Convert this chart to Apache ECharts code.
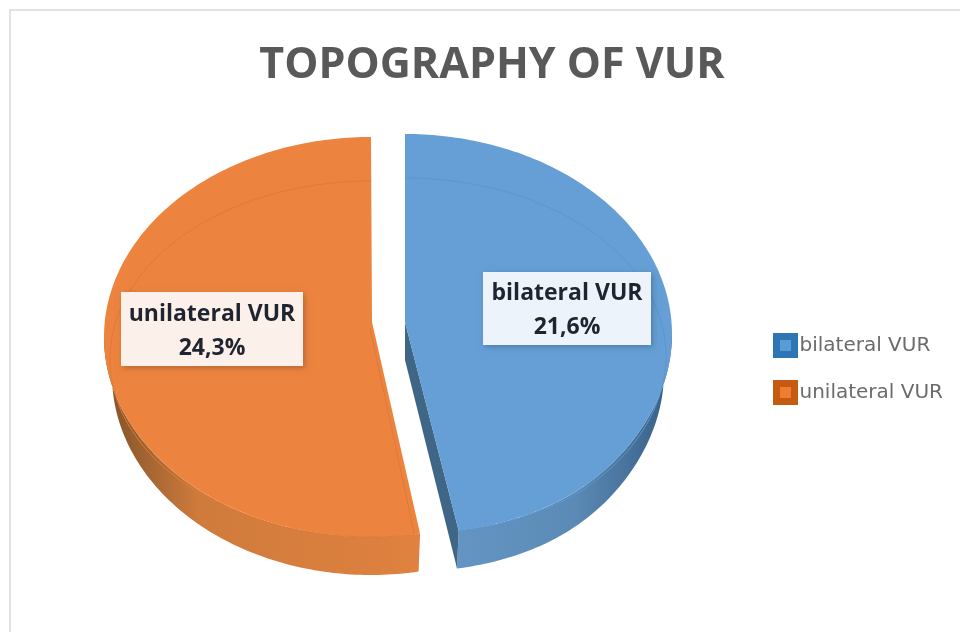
<!DOCTYPE html>
<html>
<head>
<meta charset="utf-8">
<title>Topography of VUR</title>
<script src="https://cdn.jsdelivr.net/npm/echarts@6/dist/echarts.min.js"></script>
<style>
  html, body { margin: 0; padding: 0; background: #fff; }
  #chart { width: 960px; height: 632px; }
</style>
</head>
<body>
<div id="chart"></div>
<script>
var categories = ["bilateral VUR", "unilateral VUR"];
var percents = [21.6, 24.3];

var total = percents[0] + percents[1];
var splitAngle = (360 * percents[0]) / total;
var depth = 38;

// each slice is exploded, so it keeps its own ellipse
var slices = [
  {
    from: 0, to: splitAngle,
    cx: 405, cy: 334, rx: 267, ry: 200, apexX: 405, apexY: 322, flare: 0.1,
    top: "#659fd6", line: "#5c96cd", side: "#3f6587",
    wall: [[0, "#6495c2"], [0.55, "#5b8ab6"], [1, "#375f86"]],
    legend: "#2e75b6", legendIn: "#5b9bd5",
    box: { x: 483, y: 272, width: 168, height: 73 }, boxFill: "#ecf3fa"
  },
  {
    from: splitAngle, to: 360,
    cx: 371, cy: 337, rx: 267, ry: 200, apexX: 372, apexY: 322, flare: 0,
    top: "#ec843f", line: "#e07a36", side: "#c96f31",
    wall: [[0, "#7f5228"], [0.3, "#cf7b3c"], [1, "#e0813f"]],
    legend: "#c55a11", legendIn: "#ed7d31",
    box: { x: 121, y: 292, width: 182, height: 74 }, boxFill: "#fbf0ea"
  }
];

// mode: "top" is the face, "low" the bottom rim, "bevel" the line inside the face
function arcPoints(s, from, to, mode) {
  var rx = s.rx, ry = s.ry, cy = s.cy;
  if (mode === "low") {
    rx = s.rx - 8;
    cy = s.cy + depth;
  } else if (mode === "bevel") {
    rx = s.rx - 6;
    ry = s.ry - 22;
    cy = s.cy + 22;
  }
  var pts = [];
  var steps = Math.max(1, Math.ceil(Math.abs(to - from)));
  for (var i = 0; i <= steps; i++) {
    var t = ((from + ((to - from) * i) / steps) * Math.PI) / 180;
    var c = Math.cos(t);
    // front of the pie spreads a little, it is closer to the viewer
    var spread = c < 0 ? 1 + s.flare * c * c * c * c : 1;
    pts.push([s.cx + rx * Math.sin(t) * spread, cy - ry * c]);
  }
  return pts;
}

function renderSlice(params, api) {
  var idx = params.seriesIndex;
  var s = slices[idx];
  var children = [];

  // side wall, only the part of the rim that faces the viewer
  var wallFrom = Math.max(s.from, 90);
  var wallTo = Math.min(s.to, 270);
  var rim = arcPoints(s, wallFrom, wallTo, "top");
  var rimLow = arcPoints(s, wallFrom, wallTo, "low").reverse();
  children.push({
    type: "polygon",
    shape: { points: rim.concat(rimLow) },
    style: {
      fill: new echarts.graphic.LinearGradient(0, 0, 1, 0, s.wall.map(function (w) {
        return { offset: w[0], color: w[1] };
      }))
    }
  });

  // cut face of the blue slice shows on its left
  if (idx === 0) {
    var end = rim[rim.length - 1];
    var endLow = rimLow[0];
    children.push({
      type: "polygon",
      shape: {
        points: [[s.apexX, s.apexY], end, endLow, [s.apexX, s.apexY + depth]]
      },
      style: { fill: s.side }
    });
  }

  // top face
  var outline = arcPoints(s, s.from, s.to, "top");
  outline.push([s.apexX, s.apexY]);
  children.push({
    type: "polygon",
    shape: { points: outline },
    style: { fill: s.top }
  });

  // bevel line inside the top face
  var bevel = arcPoints(s, s.from + (idx === 0 ? 0 : 1), s.to, "bevel");
  if (idx === 1) {
    bevel.unshift([s.apexX - 2, s.apexY + 6]);
  }
  children.push({
    type: "polyline",
    shape: { points: bevel },
    style: { fill: null, stroke: s.line, lineWidth: 1 }
  });

  // data label
  children.push({
    type: "rect",
    shape: s.box,
    style: {
      fill: s.boxFill,
      shadowBlur: 6,
      shadowColor: "rgba(0,0,0,0.22)",
      shadowOffsetX: 2,
      shadowOffsetY: 2
    }
  });
  children.push({
    type: "text",
    style: {
      x: s.box.x + s.box.width / 2,
      y: s.box.y + s.box.height / 2 + 2,
      text: categories[idx] + "\n" + String(percents[idx]).replace(".", ",") + "%",
      align: "center",
      verticalAlign: "middle",
      lineHeight: 34,
      fill: "#1f2430",
      font: "bold 23px 'Open Sans'"
    }
  });

  return { type: "group", children: children };
}

var myChart = echarts.init(document.getElementById("chart"));

myChart.setOption({
  animation: false,
  backgroundColor: "#fff",
  title: {
    text: "TOPOGRAPHY OF VUR",
    left: 487,
    top: 39,
    textAlign: "center",
    textStyle: {
      color: "#595959",
      fontFamily: "Open Sans",
      fontWeight: "bold",
      fontSize: 43
    }
  },
  legend: {
    left: 773,
    top: 333,
    orient: "vertical",
    itemWidth: 18,
    itemHeight: 18,
    itemGap: 22,
    padding: 0,
    icon: "rect",
    data: categories.map(function (name, i) {
      return {
        name: name,
        itemStyle: { color: slices[i].legendIn, borderColor: slices[i].legend, borderWidth: 7 }
      };
    }),
    textStyle: { color: "#6b6b6b", fontFamily: "DejaVu Sans", fontSize: 20 }
  },
  graphic: [
    {
      type: "rect",
      shape: { x: 10, y: 10, width: 1000, height: 800 },
      style: { fill: null, stroke: "#e3e3e3", lineWidth: 2 },
      silent: true
    }
  ],
  series: [
    {
      type: "custom",
      name: categories[0],
      coordinateSystem: "none",
      renderItem: renderSlice,
      data: [percents[0]],
      itemStyle: { color: slices[0].legendIn }
    },
    {
      type: "custom",
      name: categories[1],
      coordinateSystem: "none",
      renderItem: renderSlice,
      data: [percents[1]],
      itemStyle: { color: slices[1].legendIn }
    }
  ]
});
</script>
</body>
</html>
